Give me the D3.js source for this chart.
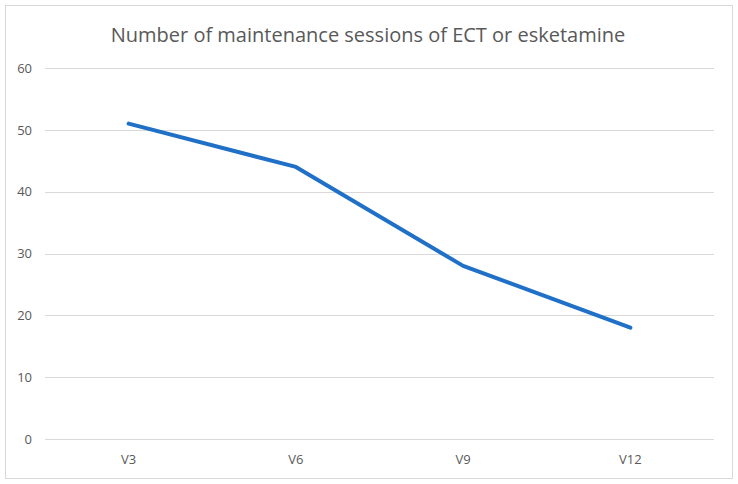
<!DOCTYPE html>
<html>
<head>
<meta charset="utf-8">
<script src="https://cdn.jsdelivr.net/npm/d3@7"></script>
<style>
  body { margin: 0; background: #fff; }
  text { font-family: "Open Sans", "Liberation Sans", sans-serif; fill: #595959; }
</style>
</head>
<body>
<div id="svganchor"></div>
<script>
let width = 738;
let height = 484;
let margin = { top: 68, right: 24, bottom: 45, left: 45 };

let categories = ["V3", "V6", "V9", "V12"];
let sessions = [51, 44, 28, 18];
let yTicks = [0, 10, 20, 30, 40, 50, 60];

let svg = d3.select("#svganchor").append("svg").attr("width", width).attr("height", height);

// chart border
svg.append("rect")
  .attr("x", 5.5).attr("y", 5.5)
  .attr("width", 727).attr("height", 473)
  .attr("fill", "#fff")
  .attr("stroke", "#d9d9d9");

svg.append("text")
  .attr("x", width / 2 - 1)
  .attr("y", 42)
  .attr("text-anchor", "middle")
  .style("font-size", "20px")
  .text("Number of maintenance sessions of ECT or esketamine");

let xScale = d3.scaleBand().domain(categories).range([margin.left, width - margin.right]);
let yScale = d3.scaleLinear().domain([0, 60]).range([height - margin.bottom, margin.top]);

// gridlines
svg.append("g")
  .selectAll("line")
  .data(yTicks)
  .enter()
  .append("line")
  .attr("x1", margin.left)
  .attr("x2", width - margin.right)
  .attr("y1", d => Math.round(yScale(d)) + 0.5)
  .attr("y2", d => Math.round(yScale(d)) + 0.5)
  .attr("stroke", "#d9d9d9")
  .attr("stroke-width", 1);

// y axis labels
let yAxis = d3.axisLeft(yScale).tickValues(yTicks).tickSize(0).tickPadding(13);
svg.append("g")
  .attr("transform", "translate(" + margin.left + ",0)")
  .call(yAxis)
  .call(g => g.select(".domain").remove())
  .call(g => g.selectAll("text").style("font-size", "13px").attr("fill", "#595959").style("font-family", null));

// x axis labels
let xAxis = d3.axisBottom(xScale).tickSize(0).tickPadding(16);
svg.append("g")
  .attr("transform", "translate(0," + (height - margin.bottom) + ")")
  .call(xAxis)
  .call(g => g.select(".domain").remove())
  .call(g => g.selectAll("text").style("font-size", "13px").attr("fill", "#595959").style("font-family", null));

let line = d3.line()
  .x((d, i) => xScale(categories[i]) + xScale.bandwidth() / 2)
  .y(d => yScale(d));

svg.append("path")
  .datum(sessions)
  .attr("d", line)
  .attr("fill", "none")
  .attr("stroke", "#1f70c6")
  .attr("stroke-width", 4)
  .attr("stroke-linecap", "round")
  .attr("stroke-linejoin", "round");
</script>
</body>
</html>
